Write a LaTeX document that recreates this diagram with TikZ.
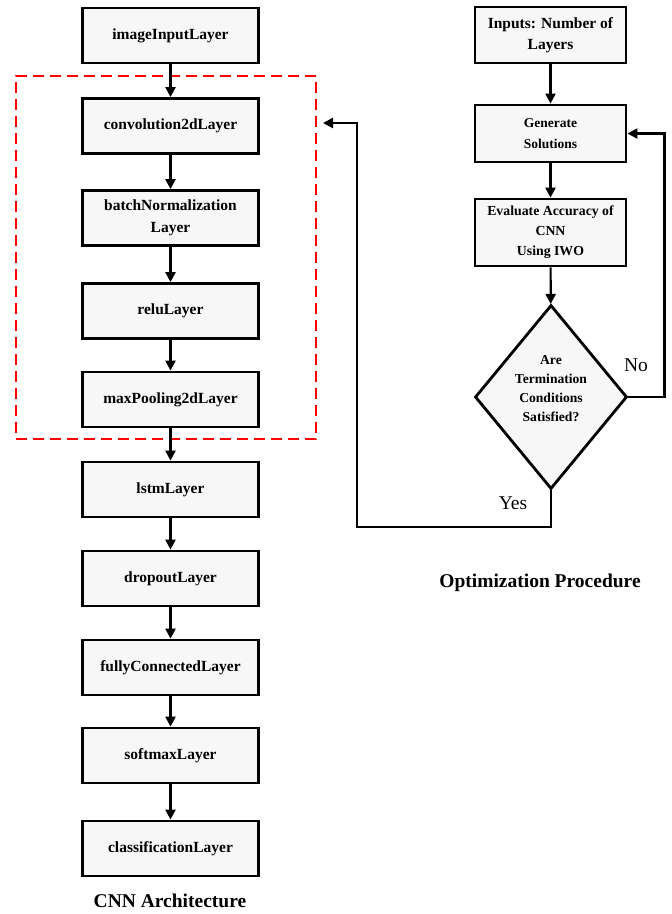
\documentclass[tikz,border=0pt]{standalone}
\usepackage{fontspec}
\setmainfont{Liberation Serif}
\usetikzlibrary{shapes.geometric, arrows.meta}
\tikzset{>={Triangle[length=10pt,width=10pt]}, x=1pt, y=-1pt,
layer/.style={draw, line width=2.8pt, fill=gray!6, minimum width=176pt, minimum height=55pt, align=center, font=\bfseries\fontsize{15.5}{22}\selectfont},
optbox/.style={layer, minimum width=151pt, font=\bfseries\fontsize{13.5}{21}\selectfont},
flow/.style={->, line width=2.2pt},
title/.style={font=\bfseries\fontsize{19.5}{22}\selectfont},
answer/.style={font=\fontsize{19.5}{22}\selectfont},
}

\begin{document}
\begin{tikzpicture}
	\useasboundingbox (0,0) rectangle (672,914);
	% CNN column
	\node[layer] (inp) at (170.5,35.5) {imageInputLayer};
	\node[layer] (conv) at (170.5,126) {convolution2dLayer};
	\node[layer] (bn) at (170.5,218) {batchNormalization\\Layer};
	\node[layer] (relu) at (170.5,311) {reluLayer};
	\node[layer] (pool) at (170.5,399.5) {maxPooling2dLayer};
	\node[layer] (lstm) at (170.5,489.5) {lstmLayer};
	\node[layer] (drop) at (170.5,578.5) {dropoutLayer};
	\node[layer] (fc) at (170.5,667.5) {fullyConnectedLayer};
	\node[layer] (soft) at (170.5,755.5) {softmaxLayer};
	\node[layer] (cls) at (170.5,848.5) {classificationLayer};
	\node[draw=red, line width=1.8pt, dash pattern=on 11pt off 6pt, minimum width=300pt, minimum height=363pt] (blk) at (166,257.5) {};
	\node[title] (cnn) at (170,901) {CNN Architecture};
	\draw[flow] (inp) -- (conv);
	\draw[flow] (conv) -- (bn);
	\draw[flow] (bn) -- (relu);
	\draw[flow] (relu) -- (pool);
	\draw[flow] (pool) -- (lstm);
	\draw[flow] (lstm) -- (drop);
	\draw[flow] (drop) -- (fc);
	\draw[flow] (fc) -- (soft);
	\draw[flow] (soft) -- (cls);

	% optimization column
	\node[optbox, minimum height=56pt, font=\bfseries\fontsize{15.5}{21}\selectfont] (ninp) at (550.5,35) {Inputs: Number of\\Layers};
	\node[optbox, minimum height=57pt] (gen) at (550.5,133.5) {Generate\\Solutions};
	\node[optbox, minimum height=67pt, font=\bfseries\fontsize{13.8}{20}\selectfont] (eval) at (550.5,232.5) {Evaluate Accuracy of\\CNN\\Using IWO};
	\node[diamond, draw, line width=2.8pt, fill=gray!6, inner sep=0pt, minimum width=152pt, minimum height=184pt] (dec) at (551,397) {};
	\node[align=center, font=\bfseries\fontsize{13.6}{19}\selectfont] (dectxt) at (551,389) {Are\\Termination\\Conditions\\Satisfied?};
	\node[title] (opt) at (540,583) {Optimization Procedure};
	\node[answer] (nolab) at (636,365) {No};
	\node[answer] (yeslab) at (513,503) {Yes};
	\coordinate (yes) at (357,527);
	\coordinate (back) at (323,123);
	\draw[flow] (ninp) -- (gen);
	\draw[flow] (gen) -- (eval);
	\draw[flow] (eval) -- (dec);
	\draw[flow] (dec.east) -- ++(36,0) |- (gen.east);
	\draw[flow] (dec.south) |- (yes) |- (back);
\end{tikzpicture}
\end{document}
